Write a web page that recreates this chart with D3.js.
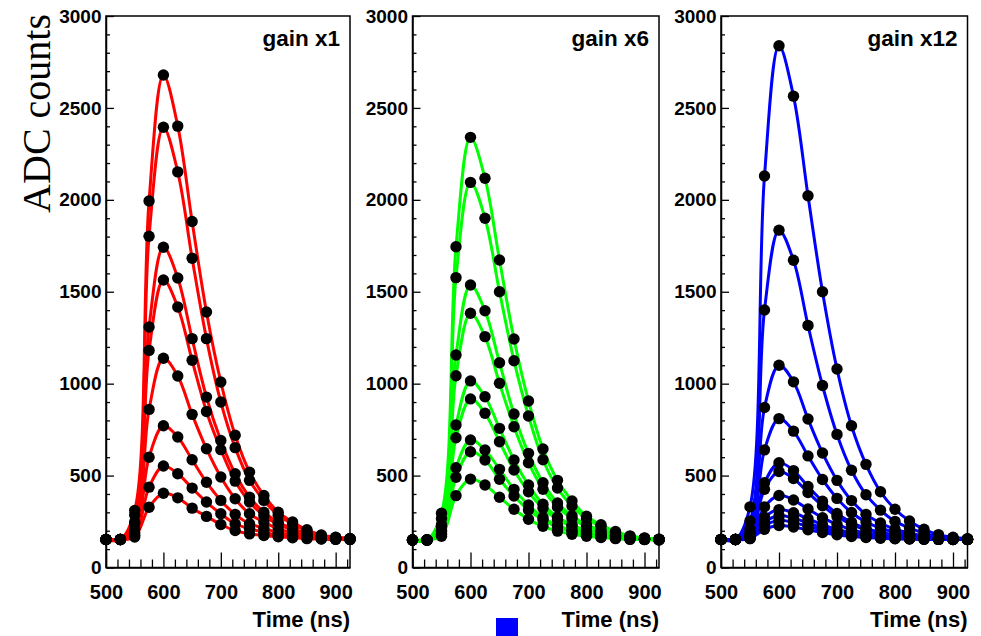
<!DOCTYPE html>
<html><head><meta charset="utf-8">
<script src="https://cdn.jsdelivr.net/npm/d3@7"></script>
<style>body{margin:0;background:#fff}svg{display:block}</style>
</head><body>
<svg id="c" width="981" height="636"></svg>
<script>
// ---- data ----
const times = [500,525,550,575,600,625,650,675,700,725,750,775,800,825,850,875,900,925];
const gainLabels = ["gain x1","gain x6","gain x12"];
const lineColors = ["#ff0000","#00ff00","#0000ff"];
const yTicks = [0,500,1000,1500,2000,2500,3000];
const xTicks = [500,600,700,800,900];
const yLabel = "ADC counts";
const xLabel = "Time (ns)";

const gain1 = [
  [152,152,310,1994,2679,2401,1882,1390,1009,719,519,392,301,248,205,177,165,158],
  [152,152,285,1802,2395,2152,1682,1245,900,652,474,365,284,237,199,174,163,157],
  [152,152,247,1308,1742,1575,1245,927,691,510,383,301,246,212,185,168,160,155],
  [152,152,237,1181,1564,1417,1127,849,641,470,356,283,235,206,182,166,159,155],
  [152,152,211,860,1138,1042,833,646,492,374,292,247,210,189,173,162,157,154],
  [152,152,189,600,771,710,586,464,365,289,238,214,189,176,165,158,155,153],
  [152,152,176,437,552,510,432,356,292,238,211,192,176,167,161,156,154,153],
  [152,152,166,328,404,379,323,278,234,201,183,174,167,162,157,155,153,152]
];
const gain6 = [
  [150,150,295,1745,2340,2117,1673,1243,906,645,474,362,279,233,196,172,161,154],
  [150,150,267,1577,2095,1900,1500,1125,824,586,432,335,265,224,191,169,160,154],
  [150,150,233,1156,1537,1397,1114,835,621,461,351,282,232,203,179,164,157,153],
  [150,150,224,1043,1383,1256,1002,766,570,426,329,267,223,197,176,162,156,152],
  [150,150,202,775,1015,929,757,585,449,344,275,232,201,183,168,159,154,152],
  [150,150,196,706,917,839,684,530,412,322,261,223,195,179,166,158,154,152],
  [150,150,183,543,694,639,534,425,340,272,229,202,182,171,161,155,153,151],
  [150,150,179,491,630,585,480,389,313,258,220,196,178,168,160,155,152,151],
  [150,150,170,391,481,449,382,317,262,224,198,181,170,163,157,153,152,150]
];
const gain12 = [
  [152,152,330,2130,2838,2564,2022,1500,1080,771,561,412,317,253,208,179,165,157],
  [152,152,253,1401,1835,1671,1317,990,724,529,396,312,251,216,187,169,160,155],
  [152,152,209,870,1100,1010,808,623,474,364,289,242,208,188,172,161,157,154],
  [152,152,191,640,810,742,607,479,376,299,247,215,191,177,166,159,155,153],
  [152,152,177,461,570,527,441,360,294,246,213,192,177,168,161,156,154,153],
  [152,152,174,426,522,484,408,336,278,235,206,187,174,166,160,156,154,153],
  [152,152,166,330,392,367,318,271,234,206,187,175,166,161,157,154,153,152],
  [152,152,162,273,315,298,265,233,207,189,176,167,162,158,155,154,153,152],
  [152,152,160,248,282,269,242,217,196,181,171,164,160,157,155,153,152,152],
  [152,152,158,229,256,245,224,204,187,175,167,162,158,156,154,153,152,152],
  [152,152,157,208,228,220,205,190,178,169,163,159,156,155,154,153,152,152]
];
const panelsData = [gain1, gain6, gain12];

// ---- layout ----
const frames = [[106,350],[412.5,659],[721,967.5]];
const plotTop = 16, plotBottom = 567.5;
const sans = "'Liberation Sans', Arial, Helvetica, sans-serif";
const fmt = d3.format("d");

const svg = d3.select("#c");
svg.append("rect").attr("width",981).attr("height",636).attr("fill","#fff");

panelsData.forEach((curves, p) => {
  const [x0, x1] = frames[p];
  const x = d3.scaleLinear().domain([500, 925]).range([x0, x1]);
  const y = d3.scaleLinear().domain([0, 3000]).range([plotBottom, plotTop]);
  const g = svg.append("g");

  // frame
  g.append("rect").attr("x", x0).attr("y", plotTop).attr("width", x1 - x0).attr("height", plotBottom - plotTop)
    .attr("fill", "none").attr("stroke", "#000").attr("stroke-width", 1.5);

  // minor ticks
  const xMinor = d3.range(500, 926, 20).filter(v => v % 100 !== 0);
  const yMinor = d3.range(0, 3001, 100).filter(v => v % 500 !== 0);
  g.append("g").attr("transform", `translate(0,${plotBottom})`)
    .call(d3.axisBottom(x).tickValues(xMinor).tickSizeInner(-8).tickSizeOuter(0).tickFormat(""))
    .call(s => s.select(".domain").remove())
    .selectAll("line").attr("stroke-width", 1.3);
  g.append("g").attr("transform", `translate(${x0},0)`)
    .call(d3.axisLeft(y).tickValues(yMinor).tickSizeInner(-4).tickSizeOuter(0).tickFormat(""))
    .call(s => s.select(".domain").remove())
    .selectAll("line").attr("stroke-width", 1.3);

  // major axes
  const xa = g.append("g").attr("transform", `translate(0,${plotBottom})`)
    .call(d3.axisBottom(x).tickValues(xTicks).tickFormat(fmt).tickSizeInner(-15).tickSizeOuter(0).tickPadding(17.5));
  xa.select(".domain").attr("stroke-width", 1.5);
  xa.selectAll("line").attr("stroke-width", 1.3);
  xa.selectAll("text").attr("font-family", sans).attr("font-weight", "bold")
    .attr("font-size", 20).attr("fill", "#000");

  const ya = g.append("g").attr("transform", `translate(${x0},0)`)
    .call(d3.axisLeft(y).tickValues(yTicks).tickFormat(fmt).tickSizeInner(-8).tickSizeOuter(0).tickPadding(4.5));
  ya.select(".domain").attr("stroke-width", 1.5);
  ya.selectAll("line").attr("stroke-width", 1.3);
  ya.selectAll("text").attr("font-family", sans).attr("font-weight", "bold")
    .attr("font-size", 19).attr("fill", "#000");

  // curves
  const line = d3.line()
    .x((d, i) => x(times[i]))
    .y(d => y(d))
    .curve(d3.curveCatmullRom.alpha(0.5));
  g.append("g").selectAll("path").data(curves).join("path")
    .attr("d", line).attr("fill", "none")
    .attr("stroke", lineColors[p]).attr("stroke-width", 3);

  // points
  const pts = curves.flatMap(c => c.map((v, i) => [times[i], v]));
  g.append("g").selectAll("circle").data(pts).join("circle")
    .attr("cx", d => x(d[0])).attr("cy", d => y(d[1])).attr("r", 5.7).attr("fill", "#000");

  // labels
  g.append("text").attr("x", x1 - 10).attr("y", 46).attr("text-anchor", "end")
    .attr("font-family", sans).attr("font-weight", "bold").attr("font-size", 22.5)
    .text(gainLabels[p]);
  g.append("text").attr("x", x1).attr("y", 627).attr("text-anchor", "end")
    .attr("font-family", sans).attr("font-weight", "bold").attr("font-size", 22)
    .text(xLabel);
});

svg.append("text").attr("transform", "translate(50,14) rotate(-90)")
  .attr("text-anchor", "end")
  .attr("font-family", "'Liberation Serif', 'Times New Roman', serif")
  .attr("font-size", 40).text(yLabel);

svg.append("rect").attr("x", 496).attr("y", 618).attr("width", 22).attr("height", 18)
  .attr("fill", "#0000ff");
</script>
</body></html>
